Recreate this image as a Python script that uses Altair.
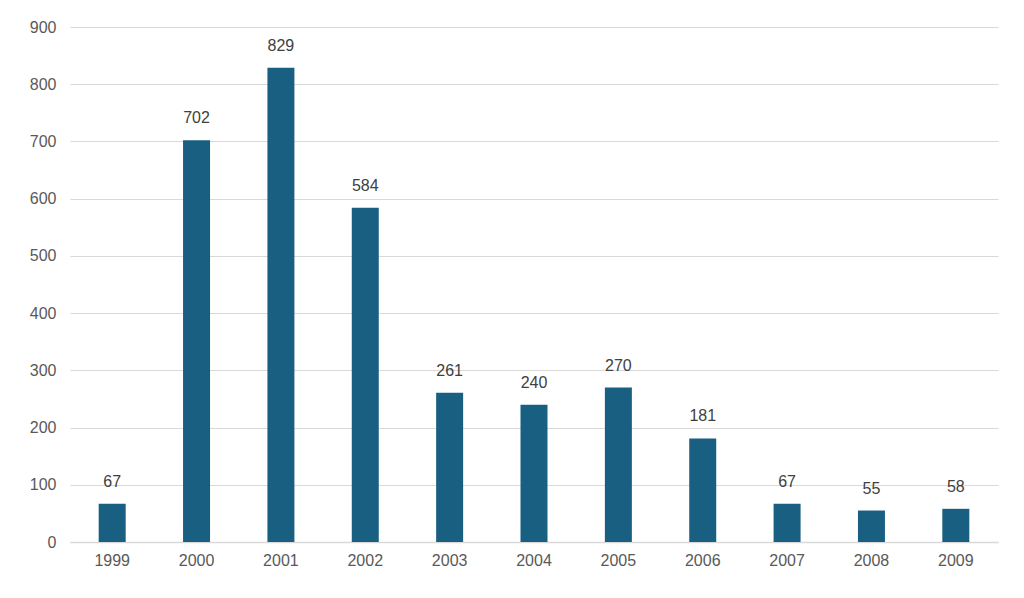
import altair as alt
import pandas as pd

years = ["1999","2000","2001","2002","2003","2004","2005","2006","2007","2008","2009"]
values = [67,702,829,584,261,240,270,181,67,55,58]
df = pd.DataFrame({"year": years, "value": values})

x = alt.X("year:N", sort=years, title=None,
          scale=alt.Scale(paddingInner=0.68, paddingOuter=0.34),
          axis=alt.Axis(labelAngle=0, labelFontSize=16, labelColor="#595959", labelPadding=10,
                        ticks=False, domainColor="#d9d9d9", domainWidth=1.5))
y = alt.Y("value:Q", title=None,
          scale=alt.Scale(domain=[0, 900]),
          axis=alt.Axis(values=list(range(0, 901, 100)), labelFontSize=16, labelColor="#595959",
                        labelPadding=14, ticks=False, domain=False, gridColor="#d9d9d9", gridWidth=1))

bars = alt.Chart(df).mark_bar(color="#185f82").encode(x=x, y=y)
text = alt.Chart(df).mark_text(dy=-22, fontSize=16, color="#404040", font="Liberation Sans").encode(
    x=x, y=y, text="value:Q")

chart = (bars + text).properties(
    width=928, height=515,
    autosize=alt.AutoSizeParams(type="none"),
    padding={"left": 62, "top": 19, "right": 10, "bottom": 40},
).configure_view(stroke=None).configure_axis(labelFont="Liberation Sans")

chart.save("out.html", embed_options={"renderer": "svg", "actions": False})
